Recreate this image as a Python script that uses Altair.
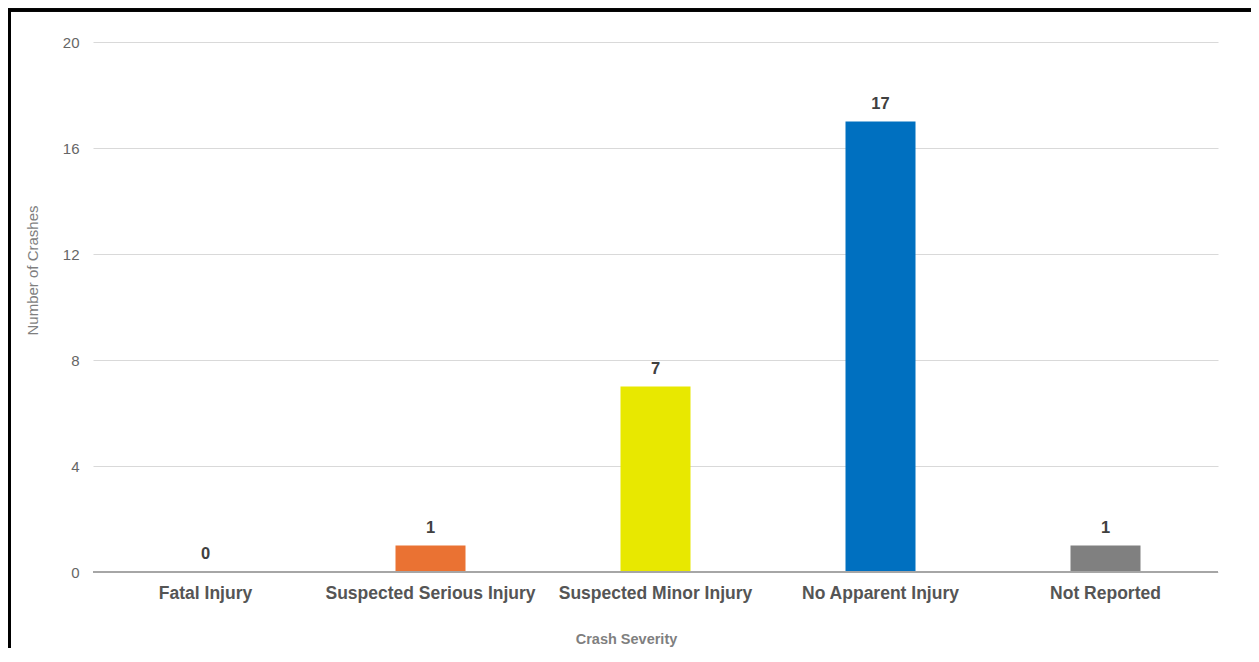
import altair as alt
import pandas as pd

categories = ["Fatal Injury", "Suspected Serious Injury", "Suspected Minor Injury",
              "No Apparent Injury", "Not Reported"]
crashes = [0, 1, 7, 17, 1]
colors = ["#C00000", "#EA7233", "#E8E800", "#0070C0", "#808080"]
y_ticks = [0, 4, 8, 12, 16, 20]

df = pd.DataFrame({"cat": categories, "n": crashes, "color": colors})

W, H = 1125, 530
FONT = "Liberation Sans"

x_enc = alt.X("cat:N", sort=categories,
              scale=alt.Scale(paddingInner=0, paddingOuter=0),
              axis=alt.Axis(title="Crash Severity", labelAngle=0, labelFontSize=17.5,
                            labelFontWeight="bold", labelColor="#555555", labelPadding=12,
                            labelLimit=0,
                            ticks=False, domain=False, grid=False,
                            titleFontSize=14.5, titleFontWeight="bold", titleColor="#7F7F7F",
                            titleX=533, titleY=60, titleFont=FONT, labelFont=FONT))
y_enc = alt.Y("n:Q", scale=alt.Scale(domain=[0, 20], nice=False),
              axis=alt.Axis(title="Number of Crashes", values=y_ticks, ticks=False,
                            domain=False, labelFontSize=15, labelColor="#666666",
                            labelPadding=14, gridColor="#D9D9D9", gridWidth=1,
                            titleFontSize=15, titleColor="#7F7F7F", titleFontWeight="normal",
                            titleX=-61, titleY=228, titleAngle=-90, titleAlign="center",
                            titleBaseline="middle", titleFont=FONT, labelFont=FONT))

base = alt.Chart(df)

bars = base.mark_bar(size=70).encode(
    x=x_enc, y=y_enc,
    color=alt.Color("color:N", scale=None),
)

zero = base.mark_rule(color="#A6A6A6", strokeWidth=1.5).encode(
    y=alt.datum(0), x=alt.value(0), x2=alt.value(W)
)

labels = base.mark_text(dy=-10, fontSize=16.5, fontWeight="bold", color="#404040",
                        font=FONT, baseline="bottom").encode(
    x=alt.X("cat:N", sort=categories), y="n:Q", text="n:Q"
)

frame = base.mark_rect(fill=None, stroke="#000000", strokeWidth=3).encode(
    x=alt.value(-83.5), y=alt.value(-32), x2=alt.value(W + 200), y2=alt.value(H + 300)
)

chart = alt.layer(bars, zero, labels, frame).properties(
    width=W, height=H,
    padding={"left": 85, "top": 34, "right": 33, "bottom": 76},
    autosize=alt.AutoSizeParams(type="none"),
    background="#FFFFFF",
).configure_view(stroke=None)

chart.save("out.html", embed_options={"renderer": "svg", "actions": False})
